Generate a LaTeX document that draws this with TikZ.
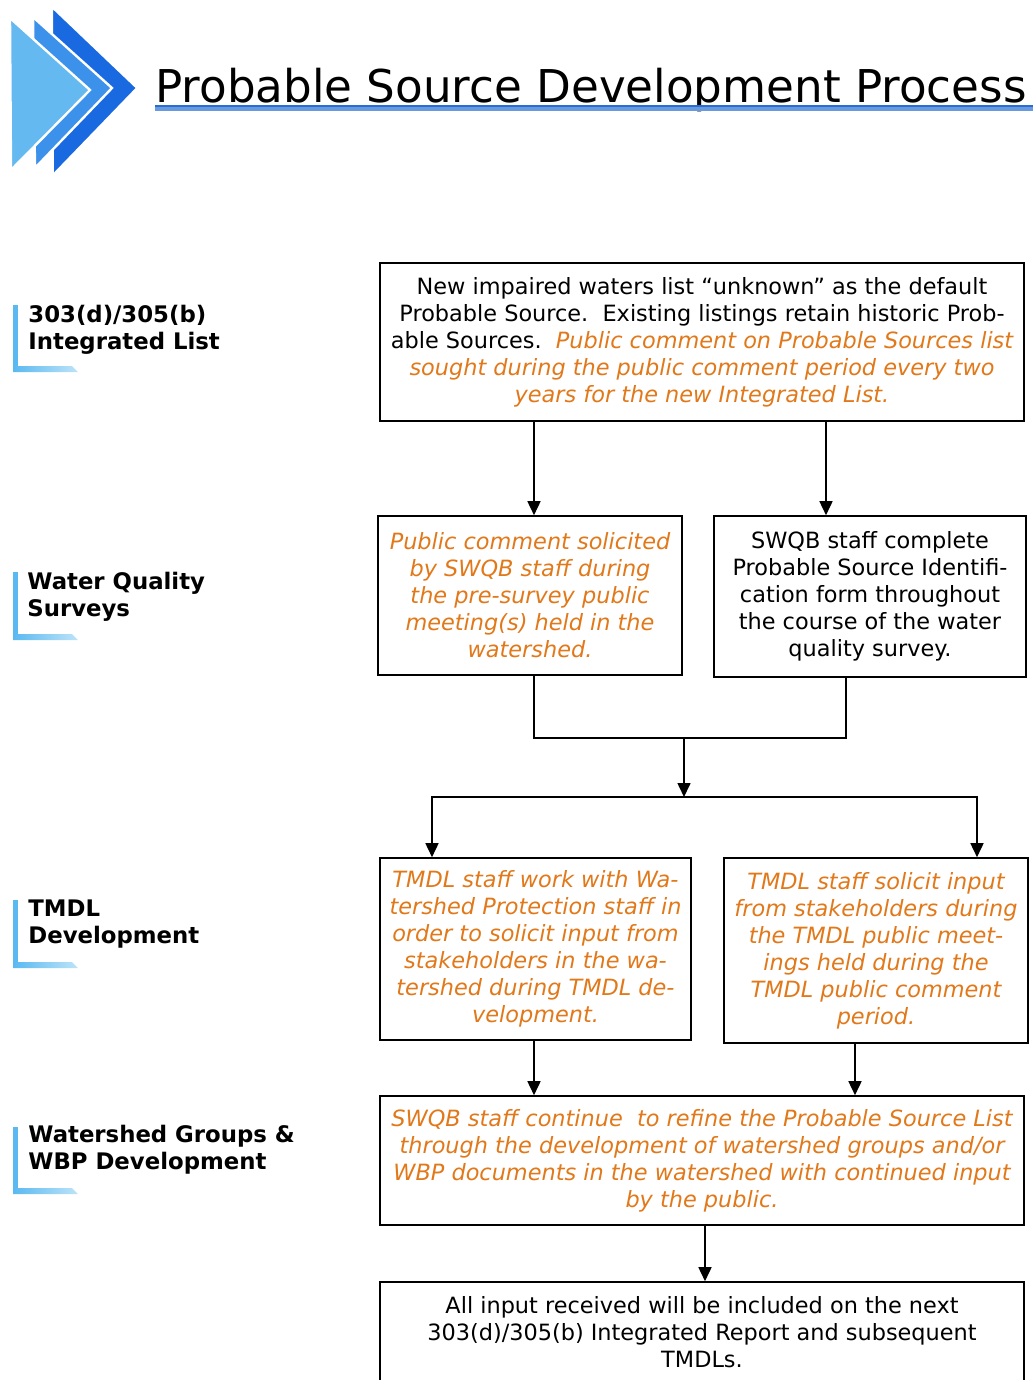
\documentclass[tikz,border=0pt]{standalone}
\usepackage{fontspec}
\setmainfont{DejaVu Sans}
\usetikzlibrary{arrows.meta,positioning,calc}
\definecolor{chevlight}{RGB}{100,185,240}
\definecolor{chevmid}{RGB}{60,145,235}
\definecolor{chevdark}{RGB}{25,105,225}
\definecolor{brkblue}{RGB}{90,185,240}
\definecolor{srcorange}{RGB}{225,120,25}
\definecolor{ruleblue}{RGB}{40,110,210}
\newcommand{\src}[1]{{\color{srcorange}\itshape #1}}

\begin{document}
\begin{tikzpicture}[x=0.5pt, y=-0.5pt, font=\fontsize{11.2}{13.5}\selectfont,
  box/.style={draw, line width=0.8pt, align=center, inner sep=0pt},
  arr/.style={line width=0.8pt, -{Triangle[length=7pt,width=6.5pt]}},
  stage/.style={anchor=west, align=left, inner sep=0pt, font=\fontsize{11.4}{13.5}\selectfont\bfseries}]
\useasboundingbox (0,0) rectangle (1033,1380);

% header chevrons and title
\fill[chevdark, draw=white, line width=1pt] (52,7) -- (137,88) -- (53,175) -- cycle;
\fill[chevmid, draw=white, line width=1.2pt] (33,17) -- (112,88) -- (35,168) -- cycle;
\fill[chevlight, draw=white, line width=1.2pt] (10,18) -- (90,90) -- (11,170) -- cycle;
\node[anchor=base west, inner sep=0pt, font=\fontsize{22.6}{26}\selectfont] (title) at (155,103) {Probable Source Development Process};
\draw[ruleblue!70, line width=2pt] (title.base west |- 0,109) -- (1033,109);
\draw[ruleblue, line width=0.9pt] (title.base west |- 0,106) -- (1033,106);

% stage brackets
\fill[brkblue] (13,305) rectangle (18,372);
\shade[left color=brkblue, right color=brkblue!40] (13,366) -- (72,366) -- (78,372) -- (13,372) -- cycle;
\fill[brkblue] (13,572) rectangle (18,640);
\shade[left color=brkblue, right color=brkblue!40] (13,634) -- (72,634) -- (78,640) -- (13,640) -- cycle;
\fill[brkblue] (13,900) rectangle (18,968);
\shade[left color=brkblue, right color=brkblue!40] (13,962) -- (72,962) -- (78,968) -- (13,968) -- cycle;
\fill[brkblue] (13,1127) rectangle (18,1194);
\shade[left color=brkblue, right color=brkblue!40] (13,1188) -- (72,1188) -- (78,1194) -- (13,1194) -- cycle;

% stage labels
\node[stage] (lblist) at (28,330) {303(d)/305(b)\\Integrated List};
\node[stage] (lbsurvey) at (27,597) {Water Quality\\Surveys};
\node[stage] (lbtmdl) at (28,924) {TMDL\\Development};
\node[stage] (lbwbp) at (28,1150) {Watershed Groups \&\\WBP Development};

% process boxes
\node[box, minimum width=322pt, minimum height=79pt] (intlist) at (702,342) {New impaired waters list “unknown” as the default\\Probable Source.\ \ Existing listings retain historic Prob-\\able Sources.\ \ \src{Public comment on Probable Sources list}\\\src{sought during the public comment period every two}\\\src{years for the new Integrated List.}};
\node[box, minimum width=152pt, minimum height=79.5pt] (pubmeet) at (530,595.5) {\src{Public comment solicited}\\\src{by SWQB staff during}\\\src{the pre-survey public}\\\src{meeting(s) held in the}\\\src{watershed.}};
\node[box, minimum width=156pt, minimum height=80.5pt] (psform) at (870,596.5) {SWQB staff complete\\Probable Source Identifi-\\cation form throughout\\the course of the water\\quality survey.};
\node[box, minimum width=155.5pt, minimum height=91pt] (wpstaff) at (535.5,949) {\src{TMDL staff work with Wa-}\\\src{tershed Protection staff in}\\\src{order to solicit input from}\\\src{stakeholders in the wa-}\\\src{tershed during TMDL de-}\\\src{velopment.}};
\node[box, minimum width=152pt, minimum height=92.5pt] (tmdlmeet) at (876,950.5) {\src{TMDL staff solicit input}\\\src{from stakeholders during}\\\src{the TMDL public meet-}\\\src{ings held during the}\\\src{TMDL public comment}\\\src{period.}};
\node[box, minimum width=322pt, minimum height=64.5pt] (refine) at (702,1160.5) {\src{SWQB staff continue\ \ to refine the Probable Source List}\\\src{through the development of watershed groups and/or}\\\src{WBP documents in the watershed with continued input}\\\src{by the public.}};
\node[box, minimum width=322pt, minimum height=50pt] (report) at (702,1332) {All input received will be included on the next\\303(d)/305(b) Integrated Report and subsequent\\TMDLs.};

% connectors
\coordinate (join) at (684,738);
\coordinate (split) at (684,797);
\draw[arr] (intlist.south -| 534,0) -- (pubmeet.north -| 534,0);
\draw[arr] (intlist.south -| 826,0) -- (psform.north -| 826,0);
\draw[line width=0.8pt] (pubmeet.south -| 534,0) |- (join) -| (psform.south -| 846,0);
\draw[arr] (join) -- (split);
\draw[arr] (split) -| (wpstaff.north -| 432,0);
\draw[arr] (split) -| (tmdlmeet.north -| 977,0);
\draw[arr] (wpstaff.south -| 534,0) -- (refine.north -| 534,0);
\draw[arr] (tmdlmeet.south -| 855,0) -- (refine.north -| 855,0);
\draw[arr] (refine.south -| 705,0) -- (report.north -| 705,0);
\end{tikzpicture}
\end{document}
